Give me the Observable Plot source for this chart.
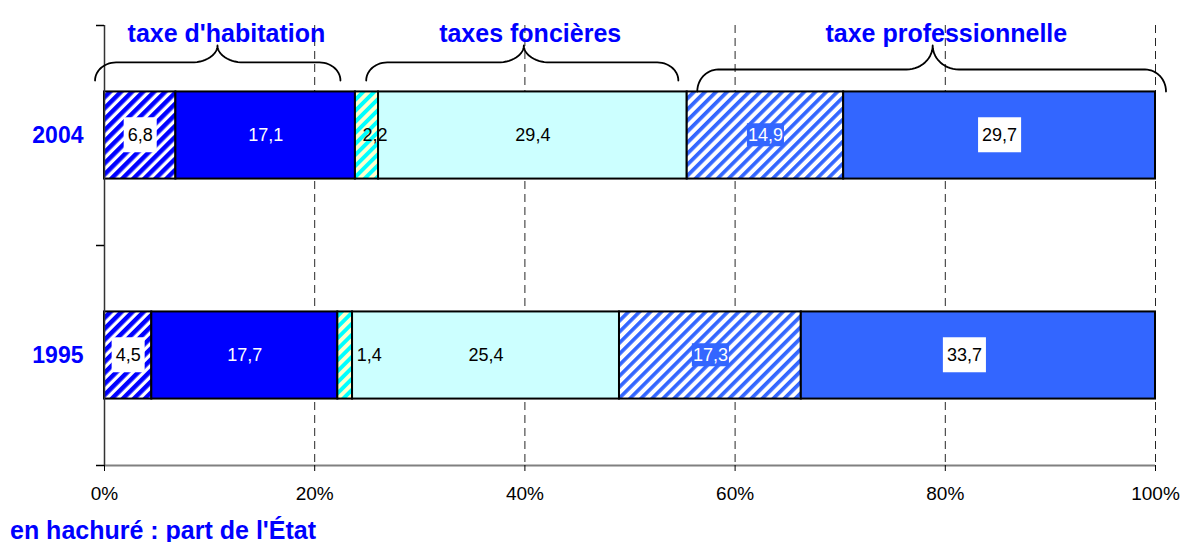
<!DOCTYPE html>
<html>
<head>
<meta charset="utf-8">
<script src="https://cdn.jsdelivr.net/npm/d3@7"></script>
<script src="https://cdn.jsdelivr.net/npm/@observablehq/plot@0.6"></script>
<style>
  html, body { margin: 0; padding: 0; background: #fff; overflow: hidden; }
  body { font-family: "Liberation Sans", Arial, sans-serif; }
  #chart svg { display: block; }
  #caption { font-weight: bold; font-size: 25px; line-height: 24px; color: #0000FF;
             padding-left: 10px; margin-top: 6px; white-space: nowrap; }
</style>
</head>
<body>
<svg width="0" height="0" style="position:absolute">
  <defs>
    <pattern id="hatch-hab" patternUnits="userSpaceOnUse" width="7.8" height="7.8" patternTransform="rotate(45)">
      <rect width="7.8" height="7.8" fill="#ffffff"/>
      <rect width="4.5" height="7.8" fill="#0000FF"/>
    </pattern>
    <pattern id="hatch-fon" patternUnits="userSpaceOnUse" width="7.8" height="7.8" patternTransform="rotate(45)">
      <rect width="7.8" height="7.8" fill="#FFFFCC"/>
      <rect width="3.9" height="7.8" fill="#00FFFF"/>
    </pattern>
    <pattern id="hatch-pro" patternUnits="userSpaceOnUse" width="7.8" height="7.8" patternTransform="rotate(45)">
      <rect width="7.8" height="7.8" fill="#ffffff"/>
      <rect width="3.7" height="7.8" fill="#3366FF"/>
    </pattern>
  </defs>
</svg>
<div id="chart"></div>
<div id="caption">en hachuré : part de l'État</div>
<script>
// ---------- data ----------
const years = ["2004", "1995"];
const segments = ["hab-etat", "hab-local", "fon-etat", "fon-local", "pro-etat", "pro-local"];
const segmentNames = [
  "taxe d'habitation – part de l'État", "taxe d'habitation – part locale",
  "taxes foncières – part de l'État", "taxes foncières – part locale",
  "taxe professionnelle – part de l'État", "taxe professionnelle – part locale"
];
const values2004 = [6.8, 17.1, 2.2, 29.4, 14.9, 29.7];
const values1995 = [4.5, 17.7, 1.4, 25.4, 17.3, 33.7];
const xTicks = [0, 0.2, 0.4, 0.6, 0.8, 1];
const gridTicks = [0.2, 0.4, 0.6, 0.8, 1];

// group annotations (braces above the 2004 bar), in data units
const groupLabels = ["taxe d'habitation", "taxes foncières", "taxe professionnelle"];
const braceStart = [-0.009, 0.249, 0.564];
const bracePeak  = [0.1075, 0.399, 0.788];
const braceEnd   = [0.2245, 0.546, 1.010];
const braceLabelX = [0.116, 0.405, 0.801];
const braceFoot  = [1.75, 1.75, 1.70];
const braceMid   = [1.832, 1.832, 1.80];
const braceTop   = [1.909, 1.909, 1.909];

// ---------- styles ----------
const fills = {
  "hab-etat": "url(#hatch-hab)", "hab-local": "#0000FF",
  "fon-etat": "url(#hatch-fon)", "fon-local": "#CCFFFF",
  "pro-etat": "url(#hatch-pro)", "pro-local": "#3366FF"
};
const labelStyle = {
  "hab-etat": "boxWhite", "hab-local": "white",
  "fon-etat": "black", "fon-local": "black",
  "pro-etat": "boxBlue", "pro-local": "boxWhite"
};
const nudges = { "2004|fon-etat": 8, "1995|fon-etat": 24, "1995|pro-local": -14 };
const BAR_HALF = 0.198;
const FONT = "Liberation Sans, Arial, sans-serif";

const fmt = d3.formatLocale({decimal: ",", thousands: "\u00a0", grouping: [3], currency: ["", "\u00a0€"]}).format(".1f");

// ---------- derived table ----------
const seriesByYear = [values2004, values1995];
const rows = [];
years.forEach((year, i) => {
  const vals = seriesByYear[i];
  const total = d3.sum(vals);
  const pos = years.length - i - 0.5;
  let c = 0;
  vals.forEach((v, j) => {
    const x1 = c / total; c += v; const x2 = c / total;
    rows.push({year, segment: segments[j], name: segmentNames[j], value: v, x1, x2, yc: pos,
               text: fmt(v), style: labelStyle[segments[j]], nudge: nudges[year + "|" + segments[j]] || 0});
  });
});

// brace geometry in data space
const bracePoints = [];
groupLabels.forEach((g, i) => {
  const rx = 0.02, rxp = 0.025;
  const x1 = braceStart[i], xp = bracePeak[i], x2 = braceEnd[i];
  const yE = braceFoot[i], yM = braceMid[i], yT = braceTop[i];
  const ry = yM - yE, ry2 = yT - yM;
  const arc = (cx, cy, ax, ay, a0, a1) => {
    const n = 14;
    for (let k = 0; k <= n; k++) {
      const a = a0 + (a1 - a0) * k / n;
      bracePoints.push({group: g, x: cx + ax * Math.cos(a), y: cy + ay * Math.sin(a)});
    }
  };
  arc(x1 + rx, yE, rx, ry, Math.PI, Math.PI / 2);
  arc(xp - rxp, yT, rxp, ry2, -Math.PI / 2, 0);
  arc(xp + rxp, yT, rxp, ry2, Math.PI, 1.5 * Math.PI);
  arc(x2 - rx, yE, rx, ry, Math.PI / 2, 0);
});

// label marks grouped by style & nudge
const labelMarks = [];
const groups = d3.groups(rows, d => d.style + "|" + d.nudge);
for (const [key, arr] of groups) {
  const style = arr[0].style;
  labelMarks.push(Plot.text(arr, {
    x: d => (d.x1 + d.x2) / 2, y: "yc", text: "text",
    fill: (style === "white" || style === "boxBlue") ? "#ffffff" : "#000000",
    fontSize: 18, dx: arr[0].nudge, ariaLabel: d => "label-" + d.style
  }));
}

const chart = Plot.plot({
  width: 1181,
  height: 512,
  marginLeft: 104,
  marginRight: 26,
  marginTop: 25,
  marginBottom: 47,
  style: {fontFamily: FONT, background: "#ffffff", color: "#000000", overflow: "visible"},
  x: {domain: [0, 1], label: null},
  y: {domain: [0, 2], label: null},
  color: {type: "identity"},
  marks: [
    Plot.ruleX(gridTicks, {stroke: "#000", strokeWidth: 1, strokeDasharray: "8,5", strokeOpacity: 0.85}),
    Plot.rect(rows, {x1: "x1", x2: "x2", y1: d => d.yc - BAR_HALF, y2: d => d.yc + BAR_HALF,
                     fill: d => fills[d.segment], stroke: "#000", strokeWidth: 2, title: d => d.name + " : " + d.text}),
    Plot.ruleY([0], {stroke: "#808080", strokeWidth: 2}),
    Plot.ruleX([0], {stroke: "#333", strokeWidth: 1.5}),
    Plot.axisX({ticks: xTicks, tickFormat: ".0%", tickSize: 6, tickPadding: 15, fontSize: 19, label: null}),
    Plot.axisY({ticks: [0, 1, 2], tickFormat: () => "", tickSize: 8, tickPadding: 0, label: null, strokeWidth: 1.5}),
    Plot.text(years, {x: () => 0, y: (d, i) => years.length - i - 0.5, text: d => d, textAnchor: "end", dx: -21,
                      fontSize: 23, fontWeight: "bold", fill: "#0000FF"}),
    ...labelMarks,
    Plot.line(bracePoints, {x: "x", y: "y", z: "group", stroke: "#000", strokeWidth: 1.8, curve: "linear"}),
    Plot.text(groupLabels, {x: (d, i) => braceLabelX[i], frameAnchor: "top", dy: -1, text: d => d,
                            fontSize: 25, fontWeight: "bold", fill: "#0000FF"})
  ]
});

document.getElementById("chart").appendChild(chart);

// boxes behind some value labels
const boxSpec = {"label-boxWhite": {fill: "#ffffff", padX: 4, h: 35}, "label-boxBlue": {fill: "#3366FF", padX: 1, h: 23}};
for (const [lab, spec] of Object.entries(boxSpec)) {
  d3.select(chart).selectAll(`text[aria-label="${lab}"]`).each(function() {
    const b = this.getBBox();
    const cy = b.y + b.height / 2 - 0.5;
    const r = document.createElementNS("http://www.w3.org/2000/svg", "rect");
    r.setAttribute("x", b.x - spec.padX);
    r.setAttribute("y", cy - spec.h / 2);
    r.setAttribute("width", b.width + 2 * spec.padX);
    r.setAttribute("height", spec.h);
    r.setAttribute("fill", spec.fill);
    r.setAttribute("stroke", "none");
    const t = this.getAttribute("transform");
    if (t) r.setAttribute("transform", t);
    this.parentNode.insertBefore(r, this);
  });
}
</script>
</body>
</html>
